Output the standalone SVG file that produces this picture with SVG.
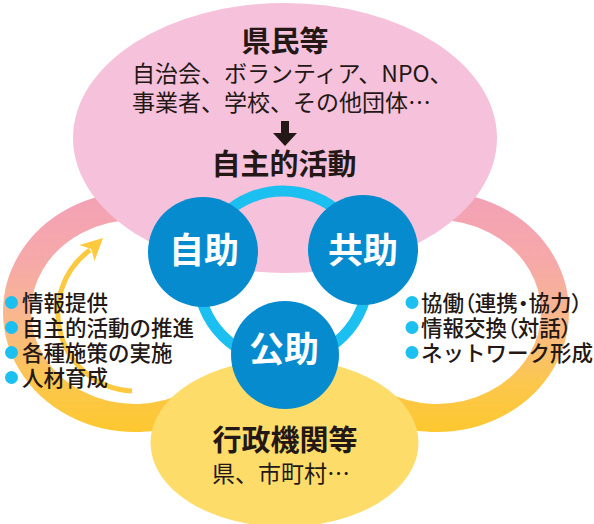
<svg xmlns="http://www.w3.org/2000/svg" width="594" height="524" viewBox="0 0 594 524">
<defs>
<linearGradient id="bandGrad" gradientUnits="userSpaceOnUse" x1="0" y1="192" x2="0" y2="432">
<stop offset="0" stop-color="#f3a1b7"/>
<stop offset="0.3" stop-color="#f6a9a8"/>
<stop offset="0.55" stop-color="#f9b98a"/>
<stop offset="0.8" stop-color="#fcc74c"/>
<stop offset="1" stop-color="#fdc82f"/>
</linearGradient>
<style>
text{font-family:"Noto Sans CJK JP","Noto Sans CJK SC",sans-serif;fill:#231815}
.h{font-size:29px;font-weight:bold;text-anchor:middle}
.s{font-size:23px}
.c{font-size:35px;font-weight:bold;fill:#ffffff;text-anchor:middle}
.l{font-size:21.5px;font-weight:500}
.p{font-feature-settings:"palt" 1}
.blue{fill:#078bcf}
.dot{fill:#1bbff0}
</style>
</defs>
<rect width="594" height="524" fill="#ffffff"/>
<g id="cycle-band">
<path d="M194,220.2 A118,106 0 1 0 194,403.8 L378,403.8 A118,106 0 1 0 378,220.2 Z" fill="none" stroke="url(#bandGrad)" stroke-width="28"/>
</g>
<g id="kenmin">
<ellipse cx="285" cy="138" rx="212" ry="135" fill="#f6c1da"/>
<text class="h" x="285" y="52">県民等</text>
<text class="s" x="132" y="82">自治会、ボランティア、NPO、</text>
<text class="s" x="132" y="111">事業者、学校、その他団体…</text>
<rect x="281" y="121" width="8" height="13" fill="#231815"/>
<polygon points="273,133 297,133 285,146" fill="#231815"/>
<text class="h" x="284" y="175">自主的活動</text>
</g>
<g id="gyosei">
<ellipse cx="284.5" cy="443" rx="134" ry="84" fill="#fedc6a"/>
<text class="h" x="285" y="451">行政機関等</text>
<text class="s" x="212" y="482">県、市町村…</text>
</g>
<g id="connectors">
<circle cx="283" cy="276" r="85" fill="none" stroke="#1bbff0" stroke-width="11"/>
<path d="M132,391 A78,78 0 0 1 90,250" fill="none" stroke="#fdc93f" stroke-width="5"/>
<polygon points="103,238 94.5,261 91.3,249 79.3,245" fill="#fdc93f"/>
</g>
<g id="jijo">
<circle class="blue" cx="203" cy="252" r="55"/>
<text class="c" x="204" y="263">自助</text>
</g>
<g id="kyojo">
<circle class="blue" cx="363" cy="250" r="55"/>
<text class="c" x="363" y="263">共助</text>
</g>
<g id="kojo">
<circle class="blue" cx="285" cy="355" r="54"/>
<text class="c" x="284" y="362">公助</text>
</g>
<g id="list-left">
<circle class="dot" cx="11.5" cy="302.5" r="6.5"/>
<circle class="dot" cx="11.5" cy="327.5" r="6.5"/>
<circle class="dot" cx="11.5" cy="352.5" r="6.5"/>
<circle class="dot" cx="11.5" cy="377.5" r="6.5"/>
<text class="l" x="22" y="310.7">情報提供</text>
<text class="l" x="22" y="335.7">自主的活動の推進</text>
<text class="l" x="22" y="360.7">各種施策の実施</text>
<text class="l" x="22" y="385.7">人材育成</text>
</g>
<g id="list-right">
<circle class="dot" cx="412" cy="302.5" r="6.5"/>
<circle class="dot" cx="412" cy="327.5" r="6.5"/>
<circle class="dot" cx="412" cy="352.5" r="6.5"/>
<text class="l" x="421" y="310.7">協働<tspan class="p">（</tspan>連携<tspan class="p">・</tspan>協力<tspan class="p">）</tspan></text>
<text class="l" x="421" y="335.7">情報交換<tspan class="p">（</tspan>対話<tspan class="p">）</tspan></text>
<text class="l" x="421" y="360.7">ネットワーク形成</text>
</g>
</svg>
